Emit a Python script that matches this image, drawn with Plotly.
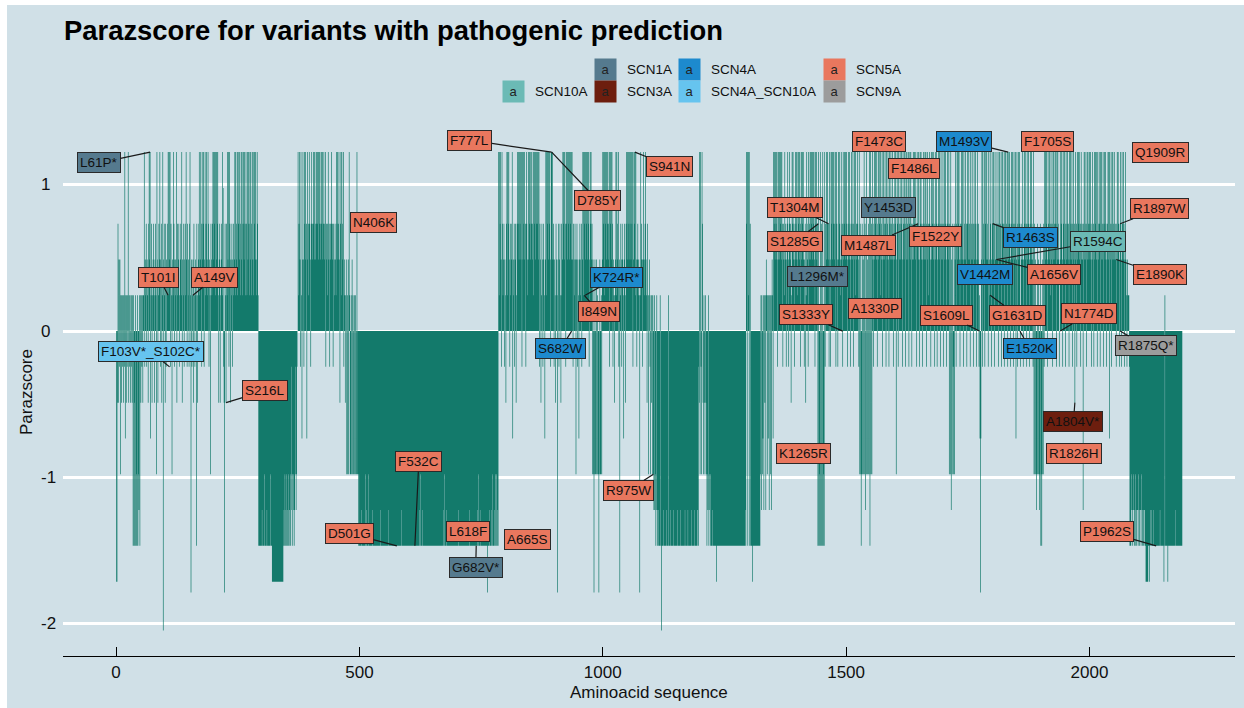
import plotly.graph_objects as go

# ---------------- data ----------------
# Parazscore levels and one-letter codes used below
score_codes = ".abcdeABCDEFGHI"
score_levels = [0.0, 0.245, 0.49, 0.735, 0.98, 1.225,
                -0.245, -0.49, -0.735, -0.98, -1.225, -1.47, -1.715, -1.79, -2.05]
seq_length = 2190

# per-residue score codes, 10 residues per chunk
seg_0001 = ["GGBcBbAbDa", "BaAaBaAeCa", "BaAaeBaAaB", "AaBaFaFBFa", "FDFaFDEaFa", "BaAaBa"]
seg_0057 = ["aeAbacAbaB", "cebeCacBab", "caBbcaDebB", "acbeAbcBae", "IbcaBcAbac",
            "eaebeAcaDb", "aecAbabeBc", "abcAabcaeB", "bacAbcaebA", "cabAceaHbA",
            "abBcaAbaFc", "BabceabecA", "ebceAbeace", "baecAbaDcb", "acebeceaeb",
            "eceaBbcBab", "caedABHcaB", "caebeAecBb", "acAbcabeae", "cbeaecbeac",
            "ebeacebeca", "ecaebecaeb", "eacebaeceb", "ebaeca"]
seg_0293 = ["FFFFFFFEFF", "FFDFFFFEFF", "FFFFDFFFGG", "GGGGGGGGGG", "GGGGGGGGGG",
            "GFEFDFEFDF", "EFDEFDFEAD", "FEDFEDAEDA", "."]
seg_0374 = ["eacebAeaCb", "ebAecebcCe", "bcaecbAcec", "bcebecbece", "cebecebcec",
            "ebcecbeAcb", "caebcAbcce", "bcAcbacbae", "cebcebBcea", "ecbeAbaBab",
            "DaDbDeaDDa", "DbDaDDaDaD", "DeDDFDF"]
seg_0501 = ["FFFFEFFFFF", "FDFFEFFDFF", "FFFFFFEFFF", "FFFFFFFFFF", "FFEFFFFFFF",
            "FFFFFFFFEF", "FFFFFFFFFF", "FFFFFFFFFF", "FFFFFEFFFF", "FFFFFFFFFF",
            "FFFFFFFFFF", "FFFFFFFFFF", "FFFEFDFFEF", "FFFFFFFFFF", "FFFFFFFFFF",
            "FFFFFFFFFF", "FFFFFFFFFF", "FEFFDFFFEF", "FFFFFFFFFF", "FFFFFFFFFF",
            "FFFEFFFFFF", "FFFFFFFFFF", "FFFFFEFFFF", "FFFFFFFFFF", "FEFFDFFEFF",
            "FFFFFFFFFF", "FFHFFFFEFF", "FEFDFFEFDF", "FDFEF"]
seg_0786 = ["eaecebAeca", "bcAbaBceae", "cebAcabceC", "bacAbcBace", "cebecebeAe",
            "becebcAeca", "bebecebcec", "beaecebece", "cebeAcbBac", "bAcbaCbeae",
            "cebecebAee", "bebcAbaBcb", "aHbcAbcaBc", "abecebecAe", "cebecebece",
            "bebAcbacbD", "bcAbaCbcab", "cAbeaecebe", "cebeceAbec", "ebcDbDHDbD",
            "DbDaDDHDbD", "DaDbeceaec", "ebecebceAe", "cebecAbaBa", "beaecbeAbH",
            "acbAcbaCbc", "aBcebecebe", "cebeceAbec", "eaebAbcaba", "HaebcbAbea",
            "bcebaBcaDa", "bADaBaDa"]
seg_1104 = ["DEaEDFEaFE", "FEFFaFFIFF", "FEFFFFFEFF", "FaFFFEFFFF", "FFEFFFFFFE",
            "FFFFFFEFFF", "FFFFFEFFFF", "FEFFFFFFEF", "FFFFEFFFFF", "FEAFBeDeAD",
            "ecBDaBDaBD", "FDEaFDEFDF", "FFEFFFFFFF", "GFFFFFFFFF", "FFFFFFFFFF",
            "FFFFFFFFFF", "FFFFFFFFFF", "FFFFFFFFFF", "FFFFFFFFFE", "FeceFeaeFc",
            "FFFFGFFFFF", "FFFFFFFFFF", "DaEaDCaEaB", "aEbaDaCaEa", "aDaEbaC"]
seg_1351 = ["ecebecebAe", "bebecebecA", "cbaebcAbce", "bAcebcBaec", "ebcAbeceba",
            "ecebeAcebe", "cebAbcBaec", "bAebcebece", "becebAeceb", "cFeFDFeFcF",
            "FeFDFeAcbe", "cebcAebAec", "ebecebceAe", "cbAebecbae", "bcAebcebec",
            "ebAcebecAb", "ecbeAcebea", "cbecbAeDcD", "FDcDbDeDcE", "DeDbDcDeFe",
            "DcDebAcebe", "cebAcebeca", "ebceAbecbe", "cAebcebAec", "bebcebAcbe",
            "ceDbecAebc", "ebcebAecbe", "cAebecbeAc", "ebecAbcebe", "cebcAecbeb",
            "AecebcAbec", "bebeAcebca", "ecbAebecbe", "cAbeceAbce", "becAebcbeA",
            "cebecAbecb", "eDcDeEbDcA", "DcDbeAcebe", "cebAcbeceb", "AecbebcAec",
            "bebcAecbeb", "cAebcebAce", "bcAaCHCbeA", "ecbeAcebec", "bAeabecbAe",
            "cbecAebbce", "bcAebecbAe", "cebcAebecb", "eAebcebAce", "becAebceCb",
            "eAcebecA.b", "cebAbecebc", "AebcebAceb", "ecbAeDcDbD", "EDcDbDEDcF",
            "DFDbDcAebe", "cebAecbeca", "ebcAebecbe", "cAebecbA.e", "bcebAecbec",
            "AebcebcAeb", "ecbeAcebcB", "ebcAebeceb", "cAebcbEceb", "ebcAebecbe",
            "cebAcebcAe", "becebAecbe", "cAebecbeAc", "ebecAbcebe", "CebcAebecb",
            "ebcbAcebec", "bAcebAecbe", "cAbebaAbaa", "aA"]
seg_2083 = ["FFFEDFEDEF", "EFDEFEEFDE", "FEEFDEFEFE", "EFFGGGGGFF", "GFEFFEFFEF",
            "FFFFFFFFFF", "FFEFFFFFFF", "GFaFFFFFGF", "FFFFFFFFFF", "FFFEFFFFFF",
            "FFFFFFFF"]

segments = [(1, seg_0001), (57, seg_0057), (293, seg_0293), (374, seg_0374),
            (501, seg_0501), (786, seg_0786), (1104, seg_1104), (1351, seg_1351),
            (2083, seg_2083)]

# variants with pathogenic prediction
variant_names = ["L61P*", "F103V*_S102C*", "T101I", "A149V", "S216L", "N406K", "D501G", "F532C",
                 "F777L", "D785Y", "S941N", "K724R*", "I849N", "S682W", "L618F", "G682V*",
                 "A665S", "R975W", "K1265R", "T1304M", "S1285G", "L1296M*", "S1333Y", "A1330P",
                 "F1473C", "F1486L", "Y1453D", "M1487L", "F1522Y", "M1493V", "F1705S", "Q1909R",
                 "R1897W", "R1463S", "R1594C", "A1656V", "V1442M", "G1631D", "E1520K", "S1609L",
                 "N1774D", "E1890K", "R1875Q*", "A1804V*", "R1826H", "P1962S"]
variant_genes = ["SCN1A", "SCN4A_SCN10A", "SCN5A", "SCN5A", "SCN5A", "SCN5A", "SCN5A", "SCN5A",
                 "SCN5A", "SCN5A", "SCN5A", "SCN4A", "SCN5A", "SCN4A", "SCN5A", "SCN1A",
                 "SCN5A", "SCN5A", "SCN5A", "SCN5A", "SCN5A", "SCN1A", "SCN5A", "SCN5A",
                 "SCN5A", "SCN5A", "SCN1A", "SCN5A", "SCN5A", "SCN4A", "SCN5A", "SCN5A",
                 "SCN5A", "SCN4A", "SCN10A", "SCN5A", "SCN4A", "SCN5A", "SCN4A", "SCN5A",
                 "SCN5A", "SCN5A", "SCN9A", "SCN3A", "SCN5A", "SCN5A"]
variant_pos = [70, 110, 107, 158, 226, 528, 577, 614,
               895, 895, 1066, 964, 962, 936, 724, 740,
               846, 1104, 1413, 1464, 1443, 1441, 1493, 1559,
               1568, 1639, 1587, 1648, 1684, 1833, 1913, 2145,
               2063, 1801, 1809, 1809, 1786, 1796, 1857, 1774,
               1940, 2055, 2063, 1970, 1969, 2137]
variant_score = [1.225, -0.245, 0.245, 0.245, -0.49, 0.743, -1.47, -1.47,
                 1.225, 1.225, 1.225, 0.245, 0.245, 0.0, -1.375, -1.47,
                 -1.426, -0.98, -0.841, 0.735, 0.735, 0.375, 0.0, 0.153,
                 1.299, 1.111, 0.844, 0.735, 0.649, 1.225, 1.299, 1.225,
                 0.735, 0.735, 0.49, 0.49, 0.387, 0.245, 0.0, 0.0,
                 0.0, 0.49, 0.0, -0.49, -0.838, -1.47]

# ---------------- layout positions (not data) ----------------
label_x = [-35, 71, 88, 203, 306, 528, 479, 622,
           727, 990, 1137, 1029, 992, 914, 724, 739,
           846, 1053, 1413, 1395, 1395, 1441, 1417, 1559,
           1568, 1639, 1587, 1547, 1684, 1743, 1913, 2145,
           2144, 1879, 2017, 1927, 1786, 1852, 1877, 1707,
           1999, 2144, 2116, 1967, 1969, 2036]
label_y = [1.151, -0.142, 0.369, 0.369, -0.409, 0.743, -1.385, -0.895,
           1.306, 0.892, 1.129, 0.369, 0.132, -0.119, -1.375, -1.615,
           -1.426, -1.092, -0.841, 0.846, 0.612, 0.375, 0.112, 0.153,
           1.299, 1.111, 0.844, 0.589, 0.649, 1.299, 1.299, 1.225,
           0.837, 0.643, 0.61, 0.389, 0.387, 0.106, -0.116, 0.11,
           0.118, 0.389, -0.102, -0.622, -0.838, -1.375]
has_segment = [1, 1, 1, 1, 1, 0, 1, 1,
               1, 1, 1, 1, 1, 1, 0, 1,
               0, 1, 0, 1, 1, 0, 1, 0,
               0, 0, 0, 1, 0, 1, 0, 0,
               1, 1, 1, 1, 0, 1, 1, 1,
               1, 1, 1, 1, 0, 1]

gene_names = ["SCN10A", "SCN1A", "SCN3A", "SCN4A", "SCN4A_SCN10A", "SCN5A", "SCN9A"]
gene_colors = ["#6bbab5", "#557a8e", "#6d1e0e", "#1d8ace", "#66c4ef", "#e9775e", "#9c9c9c"]

x_ticks = [0, 500, 1000, 1500, 2000]
y_ticks = [-2, -1, 0, 1]

BG = "#d0e0e7"
BAR = "#137a6b"
BAR_WIDTH = 1.4
FONT = "Liberation Sans, Arial, Helvetica, sans-serif"

# ---------------- build series ----------------
lvl = dict(zip(score_codes, score_levels))
positions = list(range(1, seq_length + 1))
values = [0.0] * seq_length
for start, chunks in segments:
    for i, chunk in enumerate(chunks):
        for j, ch in enumerate(chunk[:10]):
            k = start + 10 * i + j
            if 1 <= k <= seq_length:
                values[k - 1] = lvl[ch]

# each column is drawn as a closed rectangle from 0 to its score, all in one
# filled path so that neighbouring sub-pixel columns blend like the original
bx, by = [], []
for p, v in zip(positions, values):
    if v == 0:
        continue
    x0, x1 = p - BAR_WIDTH / 2, p + BAR_WIDTH / 2
    bx += [x0, x0, x1, x1, None]
    by += [0, v, v, 0, None]

# geometry helpers (pixel -> paper)
L, R, T, B = 63, 9, 128, 52
W, H = 1244, 708
PW, PH = W - L - R, H - T - B


def px(x):
    return (x - L) / PW


def py(y):
    return (H - B - y) / PH


fig = go.Figure()
fig.add_trace(go.Scatter(x=bx, y=by, mode="lines", fill="toself", fillcolor=BAR,
                         line=dict(width=0, color=BAR, simplify=False), connectgaps=False,
                         hoverinfo="skip", showlegend=False))

color_of = dict(zip(gene_names, gene_colors))
ann = []
for name, gene, vx, vy, lx, ly, seg in zip(variant_names, variant_genes, variant_pos, variant_score,
                                           label_x, label_y, has_segment):
    base = dict(text=name, font=dict(family=FONT, size=13.5, color="#111111"),
                bgcolor=color_of[gene], bordercolor="#2a2a2a", borderwidth=1, borderpad=2,
                xref="x", yref="y")
    if seg:
        base.update(x=vx, y=vy, ax=lx, ay=ly, axref="x", ayref="y", showarrow=True,
                    arrowhead=0, arrowwidth=1.2, arrowcolor="#1a1a1a", standoff=0, startstandoff=0)
    else:
        base.update(x=lx, y=ly, showarrow=False)
    ann.append(base)

# legend (manual, two rows)
legend_rows = [["SCN1A", "SCN4A", "SCN5A"], ["SCN10A", "SCN3A", "SCN4A_SCN10A", "SCN9A"]]
legend_key_x = [[605.5, 689.7, 834.5], [513.7, 605.5, 689.7, 834.5]]
legend_row_y = [69.7, 91.2]
for row, xs, yy in zip(legend_rows, legend_key_x, legend_row_y):
    for g, kx in zip(row, xs):
        ann.append(dict(text="a", x=px(kx), y=py(yy), xref="paper", yref="paper", showarrow=False,
                        width=21, height=21, bgcolor=color_of[g], borderpad=0,
                        font=dict(family=FONT, size=13, color="#222222"), xanchor="center",
                        yanchor="middle"))
        ann.append(dict(text=g, x=px(kx + 19), y=py(yy), xref="paper", yref="paper",
                        showarrow=False, xanchor="left", yanchor="middle",
                        font=dict(family=FONT, size=13.5, color="#111111")))

# y tick labels (left-aligned as in the reference)
for t in y_ticks:
    ann.append(dict(text=str(t), x=px(39), y=t, xref="paper", yref="y", showarrow=False,
                    xanchor="left", yanchor="middle", font=dict(family=FONT, size=17, color="#111111")))

# titles
ann.append(dict(text="<b>Parazscore for variants with pathogenic prediction</b>", x=px(62), y=py(30),
                xref="paper", yref="paper", showarrow=False, xanchor="left", yanchor="middle",
                font=dict(family=FONT, size=27.4, color="#000000")))
ann.append(dict(text="Aminoacid sequence", x=px(649), y=py(692), xref="paper", yref="paper",
                showarrow=False, xanchor="center", yanchor="middle",
                font=dict(family=FONT, size=17, color="#111111")))
ann.append(dict(text="Parazscore", x=px(26), y=0.5, xref="paper", yref="paper", textangle=-90,
                showarrow=False, xanchor="center", yanchor="middle",
                font=dict(family=FONT, size=17, color="#111111")))

shapes = [
    dict(type="rect", xref="paper", yref="paper", x0=px(0), x1=px(7), y0=py(H), y1=py(0),
         fillcolor="white", line=dict(width=0), layer="below"),
    dict(type="rect", xref="paper", yref="paper", x0=px(0), x1=px(W), y0=py(5), y1=py(0),
         fillcolor="white", line=dict(width=0), layer="below"),
]

fig.update_layout(
    width=W, height=H, margin=dict(l=L, r=R, t=T, b=B, pad=0),
    paper_bgcolor=BG, plot_bgcolor=BG,
    font=dict(family=FONT, color="#111111"),
    annotations=ann, shapes=shapes, showlegend=False,
    xaxis=dict(range=[-109, 2299], tickvals=x_ticks, ticktext=[str(v) for v in x_ticks],
               showgrid=False, zeroline=False, showline=True, linecolor="#000000", linewidth=1,
               ticks="inside", ticklen=9, tickwidth=1, tickcolor="#000000", ticklabelstandoff=1,
               tickfont=dict(family=FONT, size=17, color="#111111")),
    yaxis=dict(range=[-2.224, 1.39], tickvals=y_ticks, showticklabels=False, showgrid=True,
               gridcolor="#ffffff", gridwidth=3, zeroline=False, showline=False, ticks=""),
)

fig.write_html("out.html", config={"displayModeBar": False},
               post_script="document.body.style.margin='0';")
